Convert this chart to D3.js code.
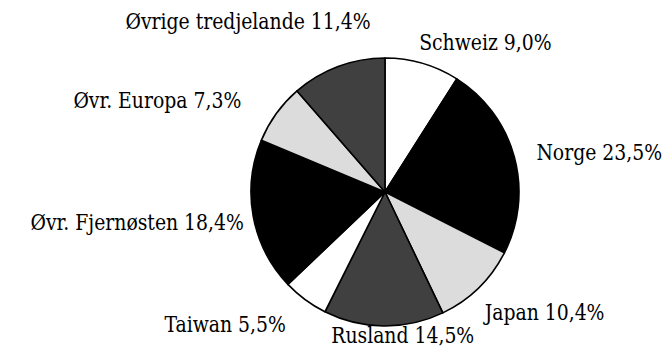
<!DOCTYPE html>
<html>
<head>
<meta charset="utf-8">
<script src="https://cdn.jsdelivr.net/npm/d3@7"></script>
<style>
  html, body { margin: 0; padding: 0; background: #fff; }
  svg { display: block; }
</style>
</head>
<body>
<svg id="chart" width="669" height="348"></svg>
<script>
// Export shares by destination, clockwise from 12 o'clock
const countries = ["Schweiz", "Norge", "Japan", "Rusland", "Taiwan", "Øvr. Fjernøsten", "Øvr. Europa", "Øvrige tredjelande"];
const shares = [9.0, 23.5, 10.4, 14.5, 5.5, 18.4, 7.3, 11.4];
const fills = ["#ffffff", "#000000", "#dcdcdc", "#404040", "#ffffff", "#000000", "#dcdcdc", "#404040"];

// Label placement: offset from the outer edge of each slice at its mid-angle
const labelOffsets = [[63, -13], [85, 3], [66, 32], [19, 17], [-80, 32], [-116, 14], [-119, -6], [-90, -38]];

const cx = 385, cy = 192, radius = 134;

const svg = d3.select("#chart");
const g = svg.append("g").attr("transform", `translate(${cx},${cy})`);

const data = countries.map((name, i) => ({ name, value: shares[i], fill: fills[i], offset: labelOffsets[i] }));

const pie = d3.pie().value(d => d.value).sort(null).startAngle(0).endAngle(2 * Math.PI);
const arc = d3.arc().innerRadius(0).outerRadius(radius);
const arcs = pie(data);

g.selectAll("path.slice")
  .data(arcs)
  .join("path")
  .attr("class", "slice")
  .attr("d", arc)
  .attr("fill", d => d.data.fill)
  .attr("stroke", "#000")
  .attr("stroke-width", 1.6)
  .attr("stroke-linejoin", "round");

const fmt = v => v.toFixed(1).replace(".", ",") + "%";

// Labels: a condensed serif face, narrowed a touch further
g.selectAll("text.label")
  .data(arcs)
  .join("text")
  .attr("class", "label")
  .attr("font-family", "'DejaVu Serif Condensed', 'DejaVu Serif', serif")
  .attr("font-size", 23)
  .attr("fill", "#000")
  .attr("text-anchor", "middle")
  .attr("transform", d => {
    const a = (d.startAngle + d.endAngle) / 2;
    const x = radius * Math.sin(a) + d.data.offset[0];
    const y = -radius * Math.cos(a) + d.data.offset[1];
    return `translate(${x},${y}) scale(0.91,1)`;
  })
  .text(d => `${d.data.name} ${fmt(d.data.value)}`);
</script>
</body>
</html>
